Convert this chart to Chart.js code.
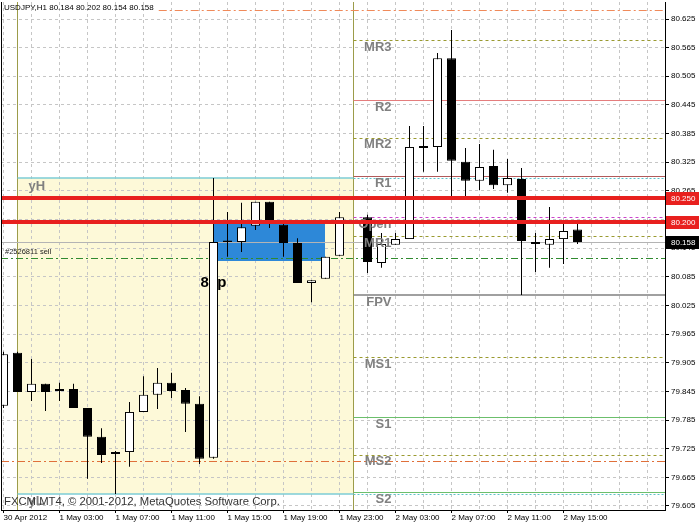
<!DOCTYPE html>
<html><head><meta charset="utf-8">
<script src="https://cdn.jsdelivr.net/npm/chart.js@4/dist/chart.umd.min.js"></script>
<style>html,body{margin:0;padding:0;background:#fff;}canvas{display:block;}</style>
</head><body>
<canvas id="c" width="700" height="525"></canvas>
<script>
// ---------------- DATA ----------------
const chartTitle = 'USDJPY,H1 80.184 80.202 80.154 80.158';
const copyrightText = 'FXCM MT4, \u00A9 2001-2012, MetaQuotes Software Corp.';
// hourly bars from 30 Apr 23:00 (index 0); index 25 (2 May 00:00) has no bar
const opens  = [79.815,79.926,79.844,79.861,79.846,79.850,79.810,79.750,79.714,79.718,79.802,79.838,79.863,79.848,79.819,79.706,80.161,80.158,80.192,80.242,80.194,80.156,80.072,80.081,80.129,null,80.210,80.114,80.152,80.164,80.359,80.357,80.543,80.326,80.286,80.317,80.277,80.290,80.158,80.152,80.164,80.184];
const highs  = [79.928,79.928,79.913,79.861,79.863,79.861,79.810,79.768,79.720,79.823,79.877,79.894,79.884,79.852,79.835,80.292,80.221,80.240,80.242,80.242,80.204,80.166,80.078,80.127,80.221,null,80.215,80.177,80.177,80.401,80.401,80.554,80.602,80.355,80.363,80.351,80.332,80.313,80.177,80.231,80.204,80.202];
const lows   = [79.810,79.844,79.825,79.804,79.825,79.810,79.662,79.695,79.630,79.687,79.802,79.808,79.831,79.760,79.693,79.704,80.127,80.137,80.183,80.187,80.127,80.072,80.032,80.081,80.129,null,80.093,80.104,80.152,80.164,80.305,80.305,80.252,80.252,80.267,80.269,80.261,80.047,80.095,80.104,80.112,80.154];
const closes = [79.923,79.844,79.861,79.844,79.850,79.810,79.750,79.712,79.718,79.802,79.838,79.863,79.846,79.819,79.704,80.158,80.158,80.189,80.242,80.204,80.156,80.072,80.078,80.127,80.210,null,80.116,80.154,80.164,80.357,80.355,80.543,80.328,80.286,80.315,80.277,80.292,80.160,80.154,80.164,80.181,80.158];
const timeTickLabels = ['30 Apr 2012','1 May 03:00','1 May 07:00','1 May 11:00','1 May 15:00','1 May 19:00','1 May 23:00','2 May 03:00','2 May 07:00','2 May 11:00','2 May 15:00'];
const priceTickLabels = ['79.605','79.665','79.725','79.785','79.845','79.905','79.965','80.025','80.085','80.145','80.205','80.265','80.325','80.385','80.445','80.505','80.565','80.625'];
const dayStartBars = [1, 25];
const pivotNames  = ['MR3','R2','MR2','R1','Open','MR1','FPV','MS1','S1','MS2','S2'];
const pivotValues = [80.581,80.455,80.376,80.296,80.210,80.170,80.047,79.917,79.791,79.712,79.634];
const yesterdayLevels = [80.292, 79.630]; // yH, yL
const alertLevels = [80.250, 80.200];
const orangeLevels = [80.644, 79.699];
const bidPrice = 80.158;
const orderLevel = 80.125;
const orderLabel = '#2526811 sell';
const zoneBars = [15, 23];
const zonePrices = [80.199, 80.117];
const pipsText = '8  p';
const pipsAnchor = [15, 80.073];

// ---------------- STYLE ----------------
const FONT = '"Liberation Sans", Arial, sans-serif';
Chart.defaults.font.family = FONT;
const pivotStyle = {
  MR3:{c:'#9a9a30',w:1,d:[3,3]}, R2:{c:'#e47d7d',w:1,d:[]}, MR2:{c:'#9a9a30',w:1,d:[3,3]},
  R1:{c:'#b25a5a',w:1,d:[]}, Open:{c:'#cc44cc',w:1,d:[3,3]}, MR1:{c:'#9a9a30',w:1,d:[3,3]},
  FPV:{c:'#808080',w:1.5,d:[]}, MS1:{c:'#9a9a30',w:1,d:[3,3]}, S1:{c:'#6cbf6c',w:1,d:[]},
  MS2:{c:'#9a9a30',w:1,d:[3,3]}, S2:{c:'#6cbf6c',w:1,d:[]}
};
const xMin = -2.5/14, xMax = xMin + 664/14;
const yMax = 80.625 + 17/477.45, yMin = 79.605 - 4/477.45;

const bodyData = [], wickData = [], bodyColors = [];
opens.forEach((o,i)=>{
  if (o === null) return;
  bodyData.push({x:i, y:[o, closes[i]]});
  wickData.push({x:i, y:[lows[i], highs[i]]});
  bodyColors.push(closes[i] > o ? '#ffffff' : '#000000');
});

const xp = (ch,v)=>ch.scales.x.getPixelForValue(v);
const yp = (ch,v)=>ch.scales.y.getPixelForValue(v);
function hline(ctx,x1,x2,y,color,w,dash){
  ctx.save();ctx.beginPath();ctx.strokeStyle=color;ctx.lineWidth=w;ctx.setLineDash(dash||[]);
  const yy = (Math.round(w)%2===1)? Math.round(y)+0.5 : Math.round(y);
  ctx.moveTo(x1,yy);ctx.lineTo(x2,yy);ctx.stroke();ctx.restore();
}
function vline(ctx,x,y1,y2,color,w){
  ctx.save();ctx.beginPath();ctx.strokeStyle=color;ctx.lineWidth=w;
  const xx=Math.floor(x)+0.5;ctx.moveTo(xx,y1);ctx.lineTo(xx,y2);ctx.stroke();ctx.restore();
}

const mt4 = {
  id:'mt4',
  beforeDraw(ch){
    const ctx=ch.ctx;
    ctx.save();ctx.fillStyle='#fff';ctx.fillRect(0,0,ch.width,ch.height);
    const x1=xp(ch,dayStartBars[0]), x2=xp(ch,dayStartBars[1]);
    const y1=yp(ch,yesterdayLevels[0]), y2=yp(ch,yesterdayLevels[1]);
    ctx.fillStyle='#fdf9d8';ctx.fillRect(x1,y1,x2-x1,y2-y1);
    ctx.restore();
  },
  beforeDatasetsDraw(ch){
    const ctx=ch.ctx, a=ch.chartArea;
    ctx.save();ctx.beginPath();ctx.rect(a.left,a.top,a.right-a.left,a.bottom-a.top);ctx.clip();
    // zone box
    const bx1=xp(ch,zoneBars[0]), bx2=xp(ch,zoneBars[1]);
    const by1=yp(ch,zonePrices[0]), by2=yp(ch,zonePrices[1]);
    ctx.fillStyle='#2d88d8';ctx.fillRect(Math.floor(bx1),Math.round(by1),Math.round(bx2-bx1),Math.round(by2-by1));
    // day separators
    dayStartBars.forEach(b=>vline(ctx,xp(ch,b),a.top,a.bottom,'#9c9c4a',1));
    const d1=xp(ch,dayStartBars[0]), d2=xp(ch,dayStartBars[1]);
    // yesterday high / low
    yesterdayLevels.forEach(v=>{
      hline(ctx,d1,d2,yp(ch,v),'#7ccdd6',1.5,[]);
      hline(ctx,d2,a.right,yp(ch,v),'#5cc2c8',1,[2,2]);
    });
    // pivots
    pivotNames.forEach((n,i)=>{const s=pivotStyle[n];hline(ctx,d2,a.right,yp(ch,pivotValues[i]),s.c,s.w,s.d);});
    // orange levels
    ctx.font='8px '+FONT;
    const tw=ctx.measureText(chartTitle).width;
    hline(ctx,a.left+4+tw+4,a.right,yp(ch,orangeLevels[0]),'#f08a5a',1,[8,3,2,3]);
    hline(ctx,a.left,a.right,yp(ch,orangeLevels[1]),'#e0703a',1,[8,3,2,3]);
    // bid and order lines
    hline(ctx,a.left,a.right,yp(ch,bidPrice),'#b4b4b4',1,[]);
    hline(ctx,a.left,a.right,yp(ch,orderLevel),'#2f8a2f',1,[7,3,2,3]);
    // pips text
    ctx.fillStyle='#000';ctx.font='bold 15px '+FONT;ctx.textBaseline='middle';ctx.textAlign='left';
    ctx.fillText(pipsText, xp(ch,pipsAnchor[0])-13, yp(ch,pipsAnchor[1]));
    ctx.restore();
  },
  afterDatasetsDraw(ch){
    const ctx=ch.ctx, a=ch.chartArea;
    ctx.save();ctx.beginPath();ctx.rect(a.left,a.top,a.right-a.left,a.bottom-a.top);ctx.clip();
    const d1=xp(ch,dayStartBars[0]), d2=xp(ch,dayStartBars[1]);
    // pivot labels
    ctx.font='bold 13px '+FONT;ctx.fillStyle='#808080';ctx.textBaseline='middle';ctx.textAlign='right';
    pivotNames.forEach((n,i)=>ctx.fillText(n,d2+38,yp(ch,pivotValues[i])+7));
    ctx.textAlign='left';
    ctx.fillText('yH',d1+11,yp(ch,yesterdayLevels[0])+8);
    ctx.fillText('yL',d1+11,yp(ch,yesterdayLevels[1])+7);
    // alert lines
    alertLevels.forEach(v=>hline(ctx,a.left,a.right,yp(ch,v),'#e8201e',4,[]));
    ctx.restore();
    // texts
    ctx.save();
    ctx.fillStyle='#000';ctx.font='8px '+FONT;ctx.textAlign='left';ctx.textBaseline='middle';
    ctx.fillText(chartTitle,a.left+3,8);
    ctx.fillStyle='#222';ctx.font='7.5px '+FONT;
    ctx.fillText(orderLabel,a.left+4,yp(ch,orderLevel)-6);
    ctx.fillStyle='#333';ctx.font='11.3px '+FONT;
    ctx.fillText(copyrightText,a.left+3,a.bottom-8);
    ctx.restore();
    // left frame
    vline(ctx,a.left,a.top,a.bottom,'#000',1);
    // price boxes on the axis
    const boxes=[[alertLevels[0],'#e8201e'],[alertLevels[1],'#e8201e'],[bidPrice,'#000']];
    ctx.save();ctx.font='8px '+FONT;ctx.textBaseline='middle';ctx.textAlign='left';
    boxes.forEach(([v,c])=>{
      const y=Math.round(yp(ch,v));
      ctx.fillStyle=c;ctx.fillRect(a.right+1,y-6,33,13);
      ctx.fillStyle='#fff';ctx.fillText(v.toFixed(3),a.right+6,y+0.5);
    });
    ctx.restore();
  }
};

new Chart(document.getElementById('c'),{
  type:'bar',
  data:{datasets:[
    {label:'body',data:bodyData,backgroundColor:bodyColors,borderColor:'#000',borderWidth:1,borderSkipped:false,barThickness:9,grouped:false,inflateAmount:0,clip:0},
    {label:'wick',data:wickData,backgroundColor:'#000',borderWidth:0,barThickness:1,grouped:false,inflateAmount:0,clip:0}
  ]},
  options:{
    responsive:false,animation:false,devicePixelRatio:1,
    layout:{padding:{left:1,top:2,right:0,bottom:0}},
    plugins:{legend:{display:false},tooltip:{enabled:false}},
    scales:{
      x:{type:'linear',position:'bottom',min:xMin,max:xMax,offset:false,
        afterBuildTicks:s=>{s.ticks=[];for(let k=0;k<=46;k+=2)s.ticks.push({value:k});},
        afterFit:s=>{s.height=15;s.paddingLeft=0;s.paddingRight=0;},
        grid:{color:'#c6c6c6',offset:false,drawTicks:true,tickLength:3,
          tickColor:c=>(c.tick&&c.tick.value%4===0&&c.tick.value/4<timeTickLabels.length)?'#000':'rgba(0,0,0,0)'},
        border:{display:true,color:'#000',width:1,dash:[3,3]},
        ticks:{autoSkip:false,maxRotation:0,minRotation:0,align:'start',padding:0,color:'#000',font:{size:8},
          callback:v=>(v%4===0&&v/4<timeTickLabels.length)?timeTickLabels[v/4]:''}
      },
      y:{type:'linear',position:'right',min:yMin,max:yMax,
        afterBuildTicks:s=>{s.ticks=priceTickLabels.map(t=>({value:parseFloat(t)}));},
        afterFit:s=>{s.width=35;s.paddingTop=0;s.paddingBottom=0;},
        grid:{color:'#c6c6c6',tickLength:4,tickColor:'#000'},
        border:{display:true,color:'#000',width:1,dash:[3,3]},
        ticks:{padding:2,color:'#000',font:{size:8},callback:(v,i)=>priceTickLabels[i]}
      }
    }
  },
  plugins:[mt4]
});
</script>
</body></html>
